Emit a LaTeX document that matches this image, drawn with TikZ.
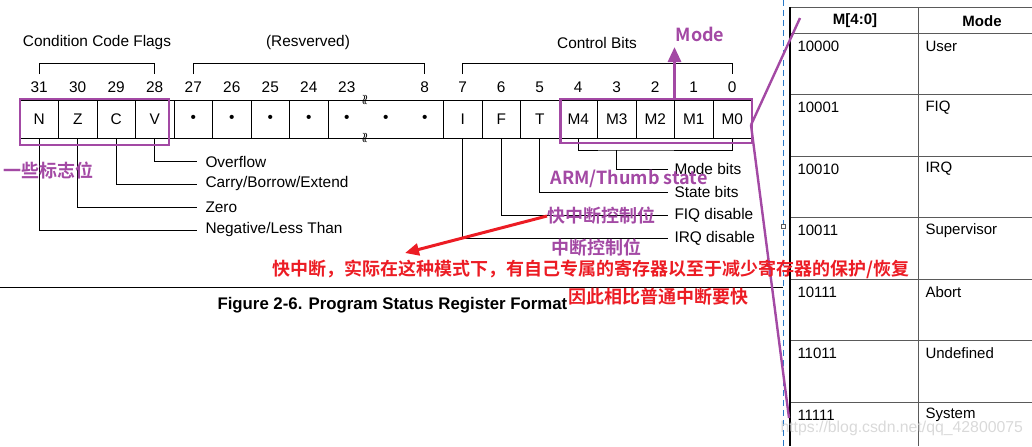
\documentclass[tikz,border=0pt]{standalone}
\usepackage{fontspec}
\setmainfont{Liberation Sans}
\newfontfamily\cjk{Noto Sans CJK SC Bold}
\usetikzlibrary{arrows.meta, positioning}

\definecolor{notepurple}{RGB}{163,73,164}
\definecolor{notered}{RGB}{236,28,36}
\definecolor{guideblue}{RGB}{40,120,200}
\definecolor{tabgray}{RGB}{90,90,90}

\tikzset{
  cell/.style={draw, minimum width=19.25pt, minimum height=19pt, inner sep=0pt, font=\fontsize{7.7}{9}\selectfont},
  bitnum/.style={inner sep=0pt, font=\fontsize{7.7}{9}\selectfont},
  lbl/.style={anchor=west, inner xsep=4pt, inner ysep=0pt, font=\fontsize{7.7}{9}\selectfont},
  note/.style={anchor=west, inner sep=0pt, text=notepurple, font=\cjk\fontsize{9}{11}\selectfont},
  warn/.style={anchor=west, inner sep=0pt, text=notered, font=\cjk\fontsize{9}{11}\selectfont},
  tabtxt/.style={anchor=west, inner sep=0pt, font=\fontsize{7.5}{9}\selectfont},
  tabhead/.style={inner sep=0pt, font=\bfseries\fontsize{7.5}{9}\selectfont},
  markup/.style={notepurple, line width=1.2pt},
  brkmark/.style={inner sep=0pt, font=\scriptsize},
}

\begin{document}
\begin{tikzpicture}[x=0.5pt, y=-0.5pt, line width=0.5pt]
\useasboundingbox (0,0) rectangle (1032,446);

% field titles and brackets
\node[bitnum] (tcond) at (97,43) {Condition Code Flags};
\node[bitnum] (tres) at (308,43) {(Resverved)};
\node[bitnum] (tctl) at (597,43) {Control Bits};
\draw (39.25,74) |- (154.75,63) -- (154.75,74);
\draw (193.25,74) |- (424.75,63) -- (424.75,74);
\draw (462.75,74) |- (732.25,63) -- (732.25,74);

% register cells
\foreach \b/\l [count=\i from 0] in {31/N,30/Z,29/C,28/V,27/\textbullet,26/\textbullet,25/\textbullet,24/\textbullet}{
  \node[cell] (bit\b) at (39.25+38.5*\i,119) {\l};
  \node[bitnum] (num\b) at (39.25+38.5*\i,87) {\b};
}
\node[cell, minimum width=57.75pt] (bit23) at (385.75,119) {\textbullet\hspace{16.8pt}\textbullet\hspace{16.8pt}\textbullet};
\node[bitnum] (num23) at (346.75,87) {23};
\node[bitnum] (num8) at (424.75,87) {8};
\node[brkmark] (brk1) at (365,100) {$\wr\!\wr$};
\node[brkmark] (brk2) at (365,138) {$\wr\!\wr$};
\foreach \b/\l [count=\i from 0] in {7/I,6/F,5/T,4/M4,3/M3,2/M2,1/M1,0/M0}{
  \node[cell] (bit\b) at (462.75+38.5*\i,119) {\l};
  \node[bitnum] (num\b) at (462.75+38.5*\i,87) {\b};
}

% flag legends
\node[lbl] (lovf) at (197,161.7) {Overflow};
\node[lbl] (lcarry) at (197,184) {Carry/Borrow/Extend};
\node[lbl] (lzero) at (197,207) {Zero};
\node[lbl] (lneg) at (197,230) {Negative/Less Than};
\draw (bit28.south) |- (lovf.west);
\draw (bit29.south) |- (lcarry.west);
\draw (bit30.south) |- (lzero.west);
\draw (bit31.south) |- (lneg.west);

% control legends
\node[lbl, inner xsep=3pt] (lmode) at (668,169) {Mode bits};
\node[lbl, inner xsep=3pt] (lstate) at (668,192) {State bits};
\node[lbl, inner xsep=3pt] (lfiq) at (668,215) {FIQ disable};
\node[lbl, inner xsep=3pt] (lirq) at (668,238) {IRQ disable};
\coordinate (mbar) at (616.75,150);
\draw (bit4.south) |- (mbar) -| (bit0.south);
\draw (mbar) |- (lmode.west);
\draw (bit5.south) |- (lstate.west);
\draw (bit6.south) |- (lfiq.west);
\draw (bit7.south) |- (lirq.west);

% caption
\draw (0,287) -- (783,287);
\node[anchor=west, inner sep=0pt, font=\bfseries\fontsize{8.4}{10}\selectfont] (caption) at (217,305) {Figure 2-6. Program Status Register Format};

% mode table
\draw[guideblue, dash pattern=on 3pt off 2pt] (783,0) -- (783,446);
\draw[tabgray, fill=white, line width=0.4pt] (781,224) rectangle (785,228);
\draw[tabgray] (790,7) -- (1032,7);
\draw[tabgray] (918,7) -- (918,446);
\node[tabhead] (hbits) at (855,21) {M[4:0]};
\node[tabhead] (hmode) at (982,21) {Mode};
\foreach \v/\m [count=\i from 0] in {10000/User,10001/FIQ,10010/IRQ,10011/Supervisor,10111/Abort,11011/Undefined,11111/System}{
  \draw[tabgray] (790,33+61.5*\i) -- (1032,33+61.5*\i);
  \node[tabtxt] (val\v) at (797,46+61.5*\i) {\v};
  \node[tabtxt] (mode\v) at (925,46+61.5*\i) {\m};
}
\draw[line width=1.4pt] (790,7) -- (790,446);

% purple markup
\draw[markup] (20,99) rectangle (169,145);
\draw[markup] (560.5,99) rectangle (752,143);
\node[note, anchor=center] (nmode) at (700,34) {Mode};
\draw[notepurple, line width=1.5pt, -{Triangle[length=7.5pt,width=6.5pt]}] (674.5,99) -- (674.5,47);
\coordinate (mzero) at (751,125);
\coordinate (thead) at (800,18);
\coordinate (tsys) at (789,418);
\draw[markup] (mzero) -- (thead);
\draw[markup] (mzero) -- (tsys);
\node[note] (nflags) at (3,171) {一些标志位};
\node[note] (nthumb) at (550,179) {ARM/Thumb state};
\node[note] (nfiq) at (547,216) {快中断控制位};
\node[note] (nirq) at (551,248) {中断控制位};

% red remark
\coordinate (redtip) at (405,253);
\draw[notered, line width=1.5pt, -{Triangle[length=7pt,width=6pt]}] (nfiq.west) -- (redtip);
\node[warn] (wline1) at (272,269) {快中断，实际在这种模式下，有自己专属的寄存器以至于减少寄存器的保护/恢复};
\node[warn] (wline2) at (568,297) {因此相比普通中断要快};

\node[anchor=west, inner sep=0pt, text=black!15, font=\fontsize{7.9}{9}\selectfont] (wmark) at (780,428) {https://blog.csdn.net/qq\_42800075};
\end{tikzpicture}
\end{document}
